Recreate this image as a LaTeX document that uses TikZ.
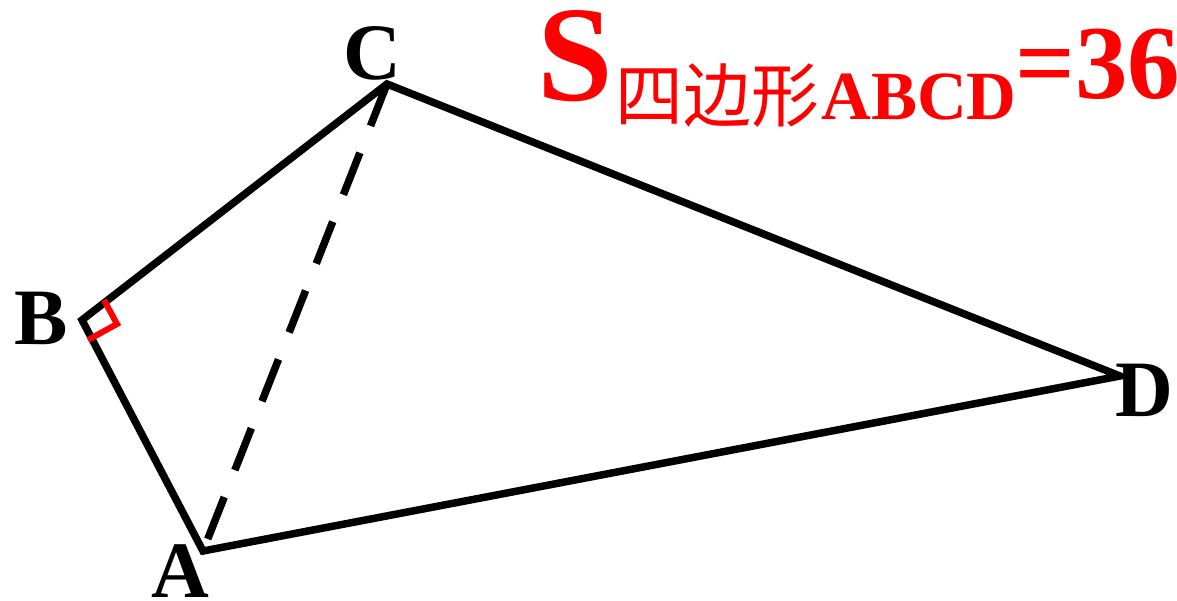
\documentclass[tikz,border=0pt]{standalone}
\usepackage{fontspec}
\setmainfont{Liberation Serif}
\newfontfamily\cjk{Noto Sans CJK SC}
\usetikzlibrary{calc}
\tikzset{
  edge/.style={line width=7.5pt, line join=miter, black},
  dashedge/.style={line width=7.5pt, dash pattern=on 45pt off 29pt, black},
  rmark/.style={line width=6pt, red, line join=miter},
  lbl/.style={inner sep=0pt, font=\fontsize{80}{80}\selectfont\bfseries},
  ttl/.style={inner sep=0pt, anchor=base west, red}
}
\begin{document}
\begin{tikzpicture}[x=1pt, y=-1pt]
\useasboundingbox (0,0) rectangle (1177,601);
\coordinate (A) at (203,551);
\coordinate (B) at (82,320);
\coordinate (C) at (387,84);
\coordinate (D) at (1120,376);
\coordinate (R1) at (104,300);
\coordinate (R2) at (117,324);
\coordinate (R3) at (88,340);
\draw[edge] (A) -- (B) -- (C) -- (D) -- cycle;
\draw[dashedge] (C) -- (A);
\draw[rmark] (R1) -- (R2) -- (R3);
\node[lbl] (la) at (180,571) {A};
\node[lbl] (lb) at (41,318) {B};
\node[lbl] (lc) at (372,53) {C};
\node[lbl] (ld) at (1144,390) {D};
\node[ttl] (ts) at (537,101) {\fontsize{136}{136}\selectfont\bfseries S};
\node[ttl] (tq) at (615,122) {\scalebox{0.97}[1]{\fontsize{70}{70}\selectfont\cjk 四边形}};
\node[ttl] (tabcd) at (821,120) {\fontsize{69}{69}\selectfont\bfseries ABCD};
\node[ttl] (tv) at (1015,99) {\fontsize{105}{105}\selectfont\bfseries =36};
\end{tikzpicture}
\end{document}
